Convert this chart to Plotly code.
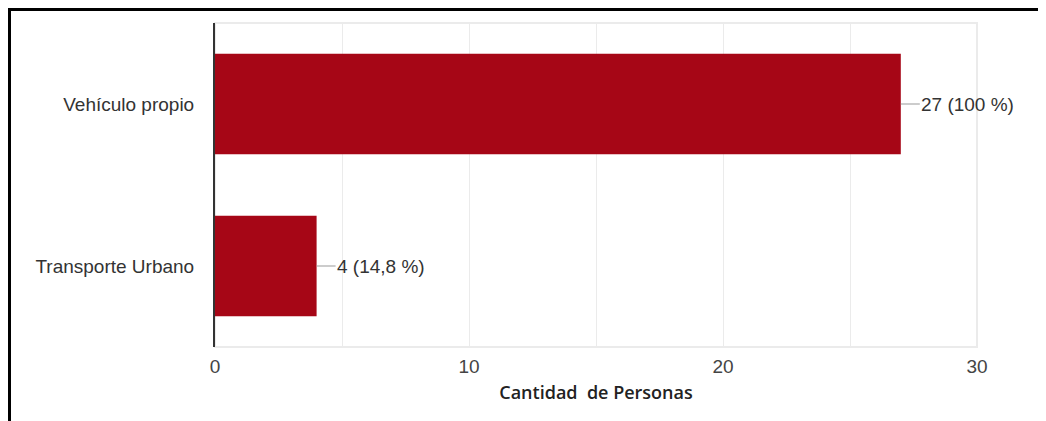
import plotly.graph_objects as go

categories = ["Vehículo propio", "Transporte Urbano"]
counts = [27, 4]
labels = ["27 (100 %)", "4 (14,8 %)"]
tick_vals = [0, 10, 20, 30]
tick_text = ["0", "10", "20", "30"]

BAR = "#a60616"
OFF = 8  # page body margin
W, H = 1046 - OFF, 421 - OFF
L, R, T, B = 215 - OFF, 69, 23 - OFF, 74
pw, ph = W - L - R, H - T - B

fig = go.Figure(go.Bar(
    x=counts, y=categories, orientation="h",
    marker=dict(color=BAR, line=dict(width=0)),
    hoverinfo="skip",
))

shapes = []
annotations = []
for c, v, lab in zip(categories, counts, labels):
    shapes.append(dict(type="line", xref="x", yref="y", xsizemode="pixel",
                       xanchor=v, x0=0, x1=19, y0=c, y1=c,
                       line=dict(color="#999999", width=1)))
    annotations.append(dict(x=v, y=c, xref="x", yref="y", text=lab,
                            showarrow=False, xanchor="left", xshift=18,
                            font=dict(family="Liberation Sans, Arial", size=19, color="#333333")))

# frame (top and left black border), figure pixel coords -> paper
def px(xp):
    return (xp - L) / pw
def py(yp):
    return (H - B - yp) / ph
shapes.append(dict(type="line", xref="paper", yref="paper",
                   x0=px(0), x1=px(W), y0=py(1.5), y1=py(1.5),
                   line=dict(color="black", width=3)))
shapes.append(dict(type="line", xref="paper", yref="paper",
                   x0=px(1.5), x1=px(1.5), y0=py(0), y1=py(H),
                   line=dict(color="black", width=3)))
# light plot-area outline
shapes.append(dict(type="rect", xref="paper", yref="paper", x0=0, x1=1, y0=0, y1=1,
                   line=dict(color="#ebebeb", width=2), layer="below"))

fig.update_layout(
    width=W, height=H,
    margin=dict(l=L, r=R, t=T, b=B),
    paper_bgcolor="white", plot_bgcolor="white",
    bargap=0.38,
    showlegend=False,
    shapes=shapes,
    annotations=annotations,
    xaxis=dict(
        range=[0, 30], tickvals=tick_vals, ticktext=tick_text,
        showgrid=True, gridcolor="#ebebeb", gridwidth=1,
        minor=dict(dtick=5, showgrid=True, gridcolor="#ebebeb", gridwidth=1),
        zeroline=False, showline=False, ticks="",
        ticklabelstandoff=6,
        tickfont=dict(family="Liberation Sans, Arial", size=19, color="#444444"),
        title=dict(text="Cantidad  de Personas", standoff=10,
                   font=dict(family="Open Sans", size=18, color="#222222", weight=600)),
        fixedrange=True,
    ),
    yaxis=dict(
        autorange="reversed", showgrid=False, zeroline=False,
        showline=True, linecolor="#333333", linewidth=2, ticks="",
        ticklabelstandoff=15,
        tickfont=dict(family="Liberation Sans, Arial", size=19, color="#333333"),
        fixedrange=True,
    ),
)

fig.write_html("out.html")
